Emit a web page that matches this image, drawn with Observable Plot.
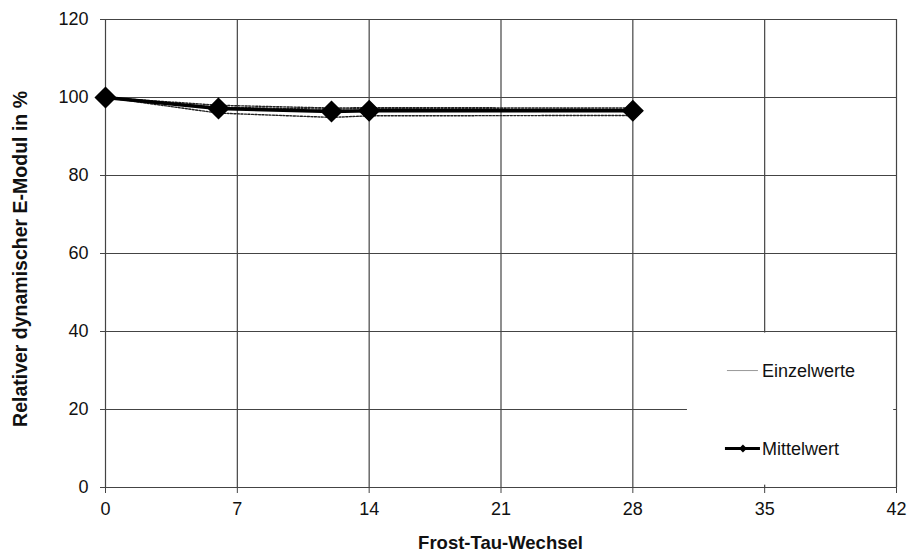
<!DOCTYPE html>
<html>
<head>
<meta charset="utf-8">
<script src="https://cdn.jsdelivr.net/npm/d3@7"></script>
<script src="https://cdn.jsdelivr.net/npm/@observablehq/plot@0.6"></script>
<style>
  html, body { margin: 0; padding: 0; background: #fff; }
  #chart { width: 908px; height: 553px; }
  svg { font-family: "Liberation Sans", Arial, sans-serif; }
</style>
</head>
<body>
<div id="chart"></div>
<script>
// Data
const cycles = [0, 6, 12, 14, 28];
const probe1 = [100, 98.0, 97.3, 97.4, 97.3];
const probe2 = [100, 97.5, 97.0, 97.2, 97.0];
const probe3 = [100, 96.0, 94.9, 95.3, 95.4];
const mittelwert = [100, 97.2, 96.4, 96.6, 96.6];
const xTicks = [0, 7, 14, 21, 28, 35, 42];
const yTicks = [0, 20, 40, 60, 80, 100, 120];
const legendLabels = ["Einzelwerte", "Mittelwert"];

const einzel = [];
[probe1, probe2, probe3].forEach((arr, i) =>
  arr.forEach((v, j) => einzel.push({probe: "P" + (i + 1), x: cycles[j], y: v})));
const mean = cycles.map((c, j) => ({x: c, y: mittelwert[j]}));

const W = 908, H = 553;
const plot = Plot.plot({
  width: W,
  height: H,
  marginLeft: 105,
  marginRight: 12,
  marginTop: 19,
  marginBottom: 66,
  style: {fontFamily: "Liberation Sans, Arial, sans-serif", fontSize: "18px", color: "#111", background: "#fff"},
  x: {domain: [0, 42], ticks: xTicks, label: null},
  y: {domain: [0, 120], ticks: yTicks, label: null},
  marks: [
    Plot.ruleX(xTicks, {stroke: "#444", strokeWidth: 1.2}),
    Plot.ruleY(yTicks, {stroke: "#444", strokeWidth: 1.2}),
    Plot.axisX({ticks: xTicks, tickSize: 6, tickPadding: 9, fontSize: 18, stroke: "#444", tickFormat: d => d}),
    Plot.axisY({ticks: yTicks, tickSize: 5, tickPadding: 12, fontSize: 18, stroke: "#444", tickFormat: d => d}),
    Plot.line(einzel, {x: "x", y: "y", z: "probe", stroke: "#222", strokeWidth: 1.4, strokeDasharray: "2,1.5"}),
    Plot.line(mean, {x: "x", y: "y", stroke: "#000", strokeWidth: 3.5}),
    Plot.dot(mean, {x: "x", y: "y", symbol: "diamond2", r: 9, fill: "#000", stroke: "#000"})
  ]
});
document.getElementById("chart").appendChild(plot);

const svg = d3.select(plot);
const sx = plot.scale("x"), sy = plot.scale("y");
// Legend box (covers gridlines)
const lx0 = sx.apply(30.9), lx1 = sx.apply(41.85);
const ly0 = sy.apply(39.6), ly1 = sy.apply(0.6);
const leg = svg.append("g").attr("text-anchor", "start");
leg.append("rect").attr("x", lx0).attr("y", ly0).attr("width", lx1 - lx0).attr("height", ly1 - ly0).attr("fill", "#fff");
const textX = lx0 + 75;
const r1 = ly0 + 38, r2 = ly0 + 116;
leg.append("line").attr("x1", lx0 + 40).attr("x2", lx0 + 71).attr("y1", r1).attr("y2", r1).attr("stroke", "#999").attr("stroke-width", 1);
leg.append("text").attr("x", textX).attr("y", r1).attr("dy", "0.35em").attr("font-size", 18).attr("fill", "#111").text(legendLabels[0]);
leg.append("line").attr("x1", lx0 + 38).attr("x2", lx0 + 73).attr("y1", r2).attr("y2", r2).attr("stroke", "#000").attr("stroke-width", 3);
leg.append("path").attr("d", d3.symbol(d3.symbolDiamond2, 40)()).attr("transform", `translate(${lx0 + 56},${r2})`).attr("fill", "#000");
leg.append("text").attr("x", textX).attr("y", r2).attr("dy", "0.35em").attr("font-size", 18).attr("fill", "#111").text(legendLabels[1]);

// Axis titles
const plotMidX = (sx.apply(0) + sx.apply(42)) / 2;
const plotMidY = (sy.apply(0) + sy.apply(120)) / 2;
svg.append("text").attr("x", plotMidX).attr("y", H - 4).attr("text-anchor", "middle")
  .attr("font-size", 18.5).attr("font-weight", "bold").attr("fill", "#111").text("Frost-Tau-Wechsel");
svg.append("text").attr("transform", `translate(27,${plotMidY + 6}) rotate(-90)`).attr("text-anchor", "middle")
  .attr("font-size", 19.5).attr("font-weight", "bold").attr("fill", "#111").text("Relativer dynamischer E-Modul in %");
</script>
</body>
</html>
